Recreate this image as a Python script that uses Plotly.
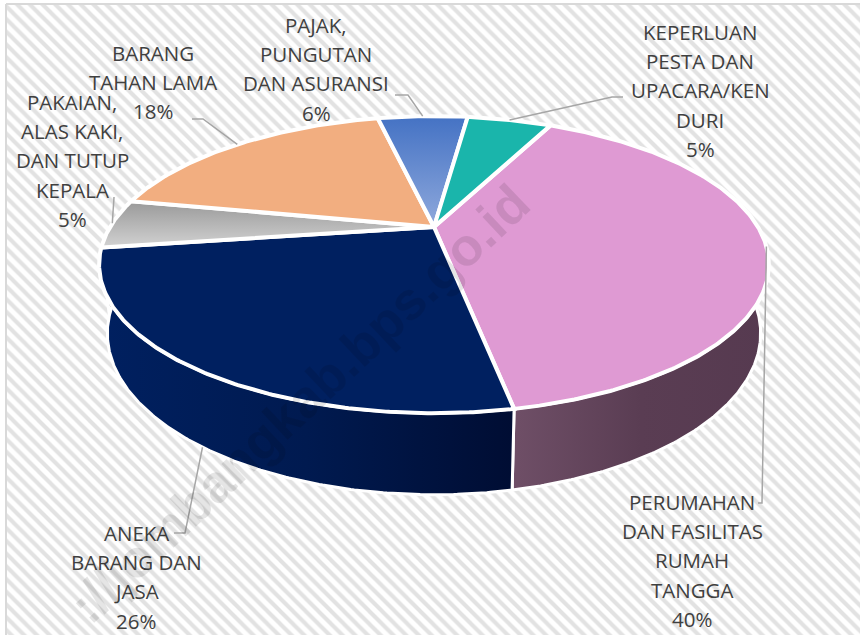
import numpy as np
import plotly.graph_objects as go

# ---- data (clockwise from the pink slice) ----
categories = ["PERUMAHAN\nDAN FASILITAS\nRUMAH\nTANGGA", "ANEKA\nBARANG DAN\nJASA",
              "PAKAIAN,\nALAS KAKI,\nDAN TUTUP\nKEPALA", "BARANG\nTAHAN LAMA",
              "PAJAK,\nPUNGUTAN\nDAN ASURANSI", "KEPERLUAN\nPESTA DAN\nUPACARA/KEN\nDURI"]
values = [39.75, 25.7, 5.4, 18.4, 5.55, 5.2]
colors = ["#DF9AD3", "#002060", "#B0B0B0", "#F2AE80", "#6688CC", "#1AB5AB"]
watermark = "://jombangkab.bps.go.id"

# ---- styling / layout ----
W, H = 860, 635
START = 26.2
CX = 434
TOP = dict(A=324.0, B=139.0, cy=227.0)
BASE = dict(A=316.0, B=151.0, cy=292.5)
K = 0.2534
TEXT_COL = "#404040"
LEAD_COL = "#A6A6A6"
side_grad = {0: ["#6F4F67", "#5A3D53", "#563A50"], 1: ["#002060", "#001A50", "#000D33"]}
top_grad = {2: ["#D2D2D2", "#999999"], 4: ["#8FA9DC", "#4472C4"]}
label_cx = [692, 136, 72, 153, 316, 700]
label_y0 = [502, 533, 102, 53, 25, 32]
LINE_PITCH = 29.2
lead_elbows = [[(762, 503), (758, 503)], [(185, 533), (174, 533)], [(114, 197)],
               [(203, 119), (192, 119)], [(408, 95), (395, 95)], [(612, 97), (623, 97)]]


def project(theta_deg, g):
    t = np.radians(theta_deg)
    u, v = np.sin(t), -np.cos(t)
    w = 1 - K * v
    return CX + g["A"] * u / w, g["cy"] + g["B"] * v / w


def arc(a, b, g):
    n = max(2, int(abs(b - a) * 2))
    return project(np.linspace(a, b, n), g)


fig = go.Figure()

# patterned backdrop
fig.add_trace(go.Scatter(x=[6, W + 5, W + 5, 6, 6], y=[4, 4, H + 5, H + 5, 4], mode="lines",
                         fill="toself", line=dict(color="#D9D9D9", width=2),
                         fillcolor="#FFFFFF",
                         fillpattern=dict(shape="\\", size=9, solidity=0.45,
                                          fgcolor="#E2E2E2", bgcolor="#FFFFFF", fillmode="replace"),
                         hoverinfo="skip"))

edges = START + np.concatenate([[0], np.cumsum(values)]) * 3.6
mids = (edges[:-1] + edges[1:]) / 2

# side walls
for i in range(len(values)):
    a, b = max(edges[i], 90), min(edges[i + 1], 270)
    if a >= b:
        continue
    xt, yt = arc(a, b, TOP)
    xb, yb = arc(a, b, BASE)
    x = np.r_[xt, xb[::-1], xt[0]]
    y = np.r_[yt, yb[::-1], yt[0]]
    stops = side_grad.get(i, ["#333333", "#333333"])
    cs = [[j / (len(stops) - 1), c] for j, c in enumerate(stops)]
    fig.add_trace(go.Scatter(x=x, y=y, mode="lines", fill="toself",
                             fillgradient=dict(type="horizontal", colorscale=cs),
                             line=dict(color="white", width=3), hoverinfo="skip"))

# top faces
for i in range(len(values)):
    xa, ya = arc(edges[i], edges[i + 1], TOP)
    x = np.r_[CX, xa, CX]
    y = np.r_[TOP["cy"], ya, TOP["cy"]]
    kw = dict(fillcolor=colors[i])
    if i in top_grad:
        s = top_grad[i]
        kw = dict(fillgradient=dict(type="vertical", colorscale=[[0, s[0]], [1, s[1]]]))
    fig.add_trace(go.Scatter(x=x, y=y, mode="lines", fill="toself",
                             line=dict(color="white", width=4), hoverinfo="skip", **kw))

# leader lines, anchored at each slice's mid angle
for i, m in enumerate(mids):
    ax, ay = project(m, BASE if i == 1 else TOP)
    pts = [(float(ax), float(ay))] + lead_elbows[i]
    fig.add_trace(go.Scatter(x=[p[0] for p in pts], y=[p[1] for p in pts], mode="lines",
                             line=dict(color=LEAD_COL, width=1.5), hoverinfo="skip"))

# labels, one annotation per line to get the chart's line pitch
ann = []
for i, c in enumerate(categories):
    lines = c.split("\n") + [f"{round(values[i])}%"]
    for j, t in enumerate(lines):
        ann.append(dict(x=label_cx[i], y=label_y0[i] + j * LINE_PITCH, text=t, showarrow=False,
                        xanchor="center", yanchor="middle",
                        font=dict(family="Open Sans", size=20.5, color=TEXT_COL)))

# watermark
ann.append(dict(x=299, y=403, text=f"<b>{watermark}</b>", showarrow=False, textangle=-43.4,
                xanchor="center", yanchor="middle",
                font=dict(family="Liberation Sans", size=53, color="rgba(0,0,0,0.10)")))

fig.update_layout(width=W, height=H, margin=dict(l=0, r=0, t=0, b=0), showlegend=False,
                  paper_bgcolor="white", plot_bgcolor="white", annotations=ann,
                  xaxis=dict(range=[0, W], visible=False, fixedrange=True),
                  yaxis=dict(range=[H, 0], visible=False, fixedrange=True))
fig.write_html("out.html", config=dict(displayModeBar=False),
               post_script="document.body.style.margin='0';")
